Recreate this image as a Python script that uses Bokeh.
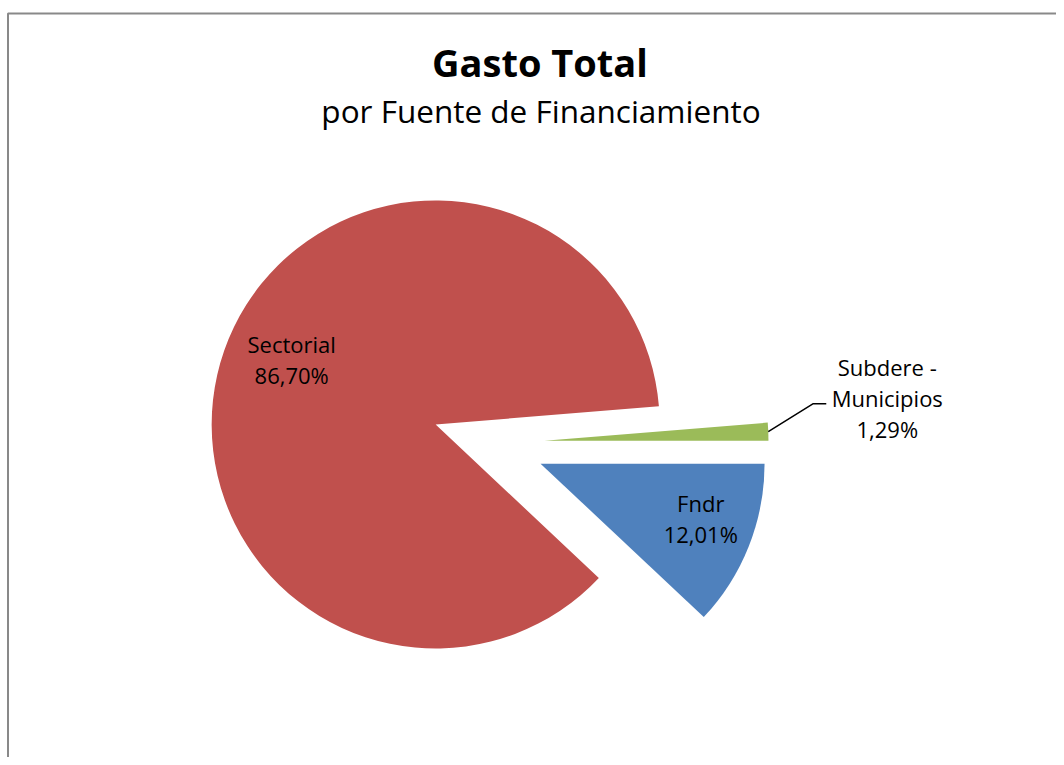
import math
from bokeh.plotting import figure
from bokeh.models import ColumnDataSource, BoxAnnotation, Label, Range1d
from bokeh.core.properties import value
from bokeh.embed import file_html
from bokeh.resources import INLINE

# ---- data ----
title_text = "Gasto Total"
subtitle_text = "por Fuente de Financiamiento"
categories = ["Fndr", "Sectorial", "Subdere - Municipios"]
shares = [12.01, 86.70, 1.29]
colors = ["#4F81BD", "#C0504D", "#9BBB59"]

# ---- layout constants ----
W, H = 1056, 757
R = 224          # pie radius (px)
EXPLODE = 56     # explosion distance (px)
FONT = "Open Sans"
LINE_GAP = 31
inside_frac = {"Fndr": 0.75, "Sectorial": 0.70}
inside_nudge = {"Fndr": (4, 7), "Sectorial": (4, 13)}

p = figure(width=W, height=H, output_backend="svg", toolbar_location=None,
           x_range=Range1d(-488, 568), y_range=Range1d(-314.5, 442.5),
           x_axis_type=None, y_axis_type=None, min_border=0)
p.outline_line_color = None
p.background_fill_color = "white"
p.border_fill_color = "white"

total = sum(shares)
wx, wy, st, en, cols = [], [], [], [], []
tx, ty, tt = [], [], []
lead_xs, lead_ys = [], []
cum = 0.0
for name, s, c in zip(categories, shares, colors):
    a0 = cum / total * 2 * math.pi
    a1 = (cum + s) / total * 2 * math.pi
    cum += s
    mid = -(a0 + a1) / 2
    ux, uy = math.cos(mid), math.sin(mid)
    ax, ay = EXPLODE * ux, EXPLODE * uy
    wx.append(ax); wy.append(ay); st.append(-a0); en.append(-a1); cols.append(c)
    pct = f"{s:.2f}%".replace(".", ",")
    if " - " in name:
        parts = name.split(" - ")
        lines = [parts[0] + " -", parts[1], pct]
    else:
        lines = [name, pct]
    if name in inside_frac:
        f = inside_frac[name]
        nx, ny = inside_nudge[name]
        lx = ax + f * R * ux + nx
        ly = ay + f * R * uy + ny
    else:
        sx0 = ax + R * ux
        sy0 = ay + R * uy
        ex, ey = sx0 + 45, sy0 + 28
        fx, fy = ex + 13, ey
        lead_xs.append([sx0, ex, fx]); lead_ys.append([sy0, ey, fy])
        lx, ly = fx + 61, fy + 6
    n = len(lines)
    for i, ln in enumerate(lines):
        tx.append(lx)
        ty.append(ly + ((n - 1) / 2 - i) * LINE_GAP)
        tt.append(ln)

src = ColumnDataSource(dict(x=wx, y=wy, start=st, end=en, color=cols, name=categories))
p.wedge(x="x", y="y", radius=R, start_angle="start", end_angle="end",
        direction="clock", fill_color="color", line_color=None, source=src)

p.multi_line(xs=lead_xs, ys=lead_ys, line_color="black", line_width=1.5)

tsrc = ColumnDataSource(dict(x=tx, y=ty, text=tt))
p.text(x="x", y="y", text="text", source=tsrc, text_font=value(FONT),
       text_font_size="22px", text_align="center", text_baseline="middle",
       text_color="black")

p.add_layout(Label(x=539.5, y=696, x_units="screen", y_units="screen", text=title_text,
                   text_font=FONT, text_font_style="bold", text_font_size="38px",
                   text_align="center", text_baseline="alphabetic", text_color="black"))
p.add_layout(Label(x=540.5, y=647, x_units="screen", y_units="screen", text=subtitle_text,
                   text_font=FONT, text_font_size="31.5px",
                   text_align="center", text_baseline="alphabetic", text_color="black"))

# chart-area border: only left and top edges fall inside the picture
p.add_layout(BoxAnnotation(left=-480.5, top=429.5, right=5000, bottom=-5000,
                           fill_color=None, fill_alpha=0, line_color="#898989",
                           line_width=2, line_alpha=1))

open("out.html", "w").write(file_html(p, INLINE))
